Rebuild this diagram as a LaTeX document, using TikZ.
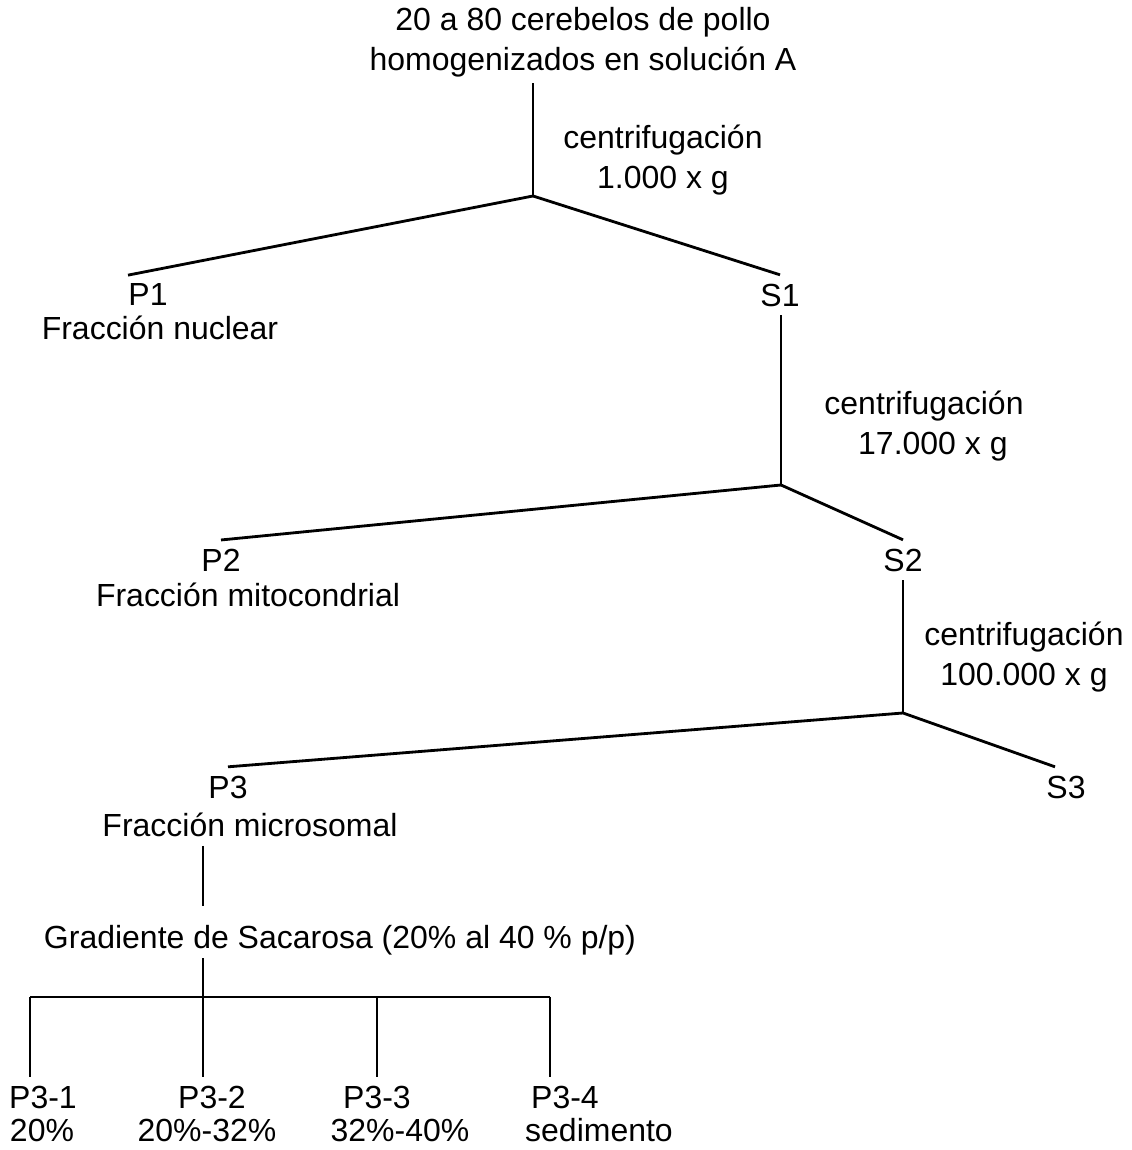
\documentclass[tikz,border=0pt]{standalone}
\usepackage{fontspec}
\setmainfont{Liberation Sans}
\usepackage{tikz}

\begin{document}
\begin{tikzpicture}[
    txt/.style={font=\fontsize{18.2pt}{22.8pt}\selectfont, align=center},
    frac/.style={txt, inner xsep=0pt, inner ysep=0.17cm},
    rama/.style={line width=1.6pt}]
  \useasboundingbox (0, 0) rectangle (22.62, 23);
  \node[txt] (top) at (11.66, 22.16) {20 a 80 cerebelos de pollo\\homogenizados en soluci\'on A};
  \coordinate (j1) at (10.66, 19.08);
  \node[txt] (cf1) at (13.26, 19.80) {centrifugaci\'on\\1.000 x g};
  \node[frac] (p1) at (2.96, 17.10) {P1};
  \node[frac] (fn) at (3.20, 16.44) {Fracci\'on nuclear};
  \node[frac] (s1) at (15.60, 17.10) {S1};
  \coordinate (j2) at (15.62, 13.30);
  \node[txt] (cf2) at (18.48, 14.48) {centrifugaci\'on\\\ \ 17.000 x g};
  \node[frac] (p2) at (4.42, 11.80) {P2};
  \node[frac] (fm) at (4.96, 11.10) {Fracci\'on mitocondrial};
  \node[frac] (s2) at (18.06, 11.80) {S2};
  \coordinate (j3) at (18.06, 8.74);
  \node[txt] (cf3) at (20.48, 9.86) {centrifugaci\'on\\100.000 x g};
  \node[frac] (p3) at (4.56, 7.26) {P3};
  \node[frac] (fmi) at (5.00, 6.50) {Fracci\'on microsomal};
  \node[frac] (s3) at (21.32, 7.26) {S3};
  \node[txt, inner ysep=0.05cm] (grad) at (6.80, 4.19) {Gradiente de Sacarosa (20\% al 40 \% p/p)};
  \coordinate (b1) at (0.60, 3.06);
  \coordinate (b2) at (4.06, 3.06);
  \coordinate (b3) at (7.54, 3.06);
  \coordinate (b4) at (11.00, 3.06);
  \node[frac] (p31) at (0.86, 1.06) {P3-1};
  \node[frac] (v31) at (0.84, 0.40) {20\%};
  \node[frac] (p32) at (4.24, 1.06) {P3-2};
  \node[frac] (v32) at (4.14, 0.40) {20\%-32\%};
  \node[frac] (p33) at (7.54, 1.06) {P3-3};
  \node[frac] (v33) at (8.00, 0.40) {32\%-40\%};
  \node[frac] (p34) at (11.30, 1.06) {P3-4};
  \node[frac] (v34) at (11.98, 0.40) {sedimento};
  \draw[rama] (top.south -| j1) -- (j1);
  \draw[rama] (j1) -- ([xshift=-0.4cm]p1.north);
  \draw[rama] (j1) -- (s1.north);
  \draw[rama] (s1.south -| j2) -- (j2);
  \draw[rama] (j2) -- (p2.north);
  \draw[rama] (j2) -- (s2.north);
  \draw[rama] (s2.south) -- (j3);
  \draw[rama] (j3) -- (p3.north);
  \draw[rama] (j3) -- ([xshift=-0.22cm]s3.north);
  \draw[rama] (fmi.south -| b2) -- ([yshift=0.33cm]grad.north -| b2);
  \draw[rama] (grad.south -| b2) -- (b2 |- p32.north);
  \draw[rama] (b1) -- (b4);
  \draw[rama] (b1) -- (b1 |- p31.north);
  \draw[rama] (b3) -- (b3 |- p33.north);
  \draw[rama] (b4) -- (b4 |- p34.north);
\end{tikzpicture}
\end{document}
